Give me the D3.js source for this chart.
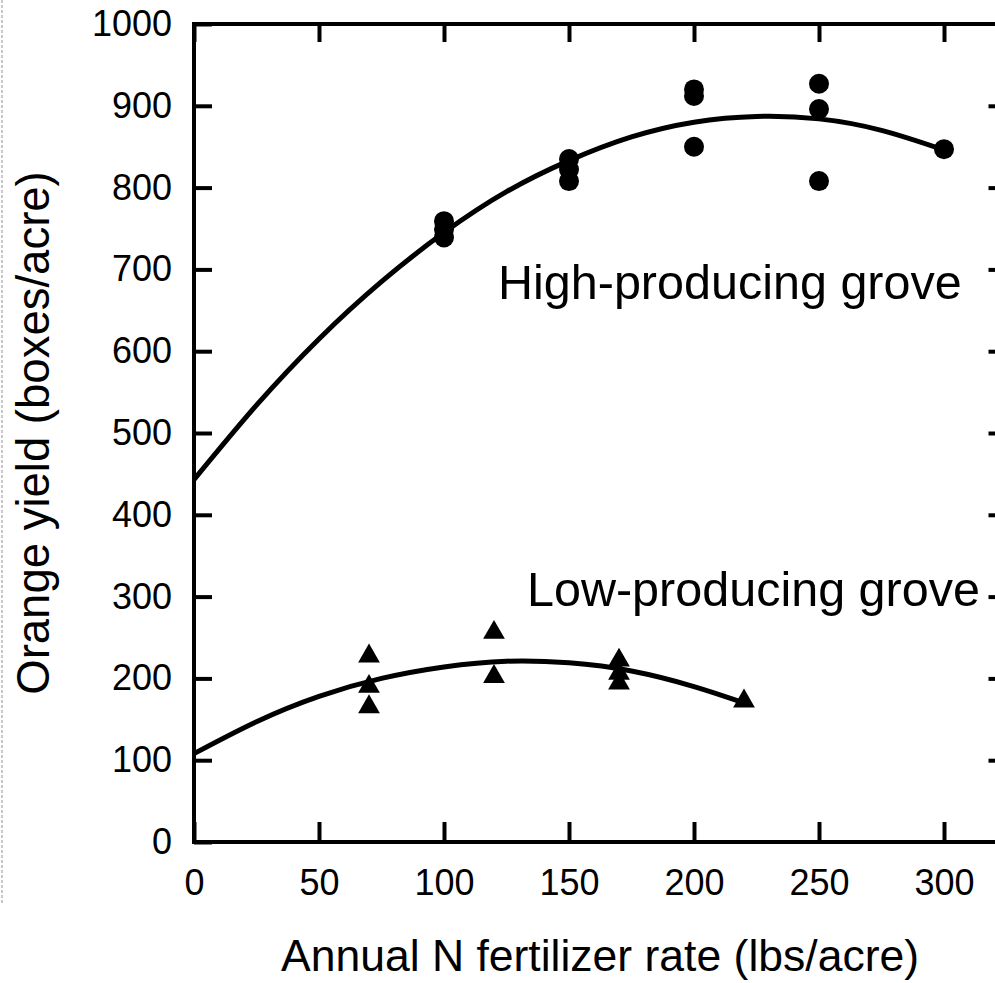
<!DOCTYPE html>
<html>
<head>
<meta charset="utf-8">
<script src="https://cdn.jsdelivr.net/npm/d3@7"></script>
<style>
    body { margin: 0; background: #fff; }
    text { font-family: "Liberation Sans", Arial, sans-serif; fill: #000; }
</style>
</head>
<body>
<div id="chart"></div>
<script>
'use strict';

// Observed yields, high-producing grove (circles)
const highX = [100, 100, 100, 150, 150, 150, 200, 200, 200, 250, 250, 250, 300];
const highY = [759, 749, 739, 835, 822, 808, 920, 912, 850, 927, 896, 808, 847];

// Observed yields, low-producing grove (triangles)
const lowX = [70, 70, 70, 120, 120, 170, 170, 170, 220];
const lowY = [231, 194, 169, 260, 206, 226, 210, 198, 176];

// Fitted response curves
const highFitX = [0, 25, 50, 75, 100, 125, 150, 175, 200, 225, 250, 275, 300];
const highFitY = [443, 534, 615, 685, 745, 795, 833, 862, 880, 887, 884, 870, 846];
const lowFitX = [0, 25, 50, 75, 100, 125, 150, 175, 200, 220];
const lowFitY = [108, 147, 178, 200, 214, 221, 219, 209, 190, 170];

const xTicks = [0, 50, 100, 150, 200, 250, 300];
const yTicks = [0, 100, 200, 300, 400, 500, 600, 700, 800, 900, 1000];

const width = 995, height = 983;
const plotLeft = 194, plotTop = 24, plotBottom = 842;
const plotRight = plotLeft + 325 * 2.5;

const svg = d3.select("#chart")
    .append("svg")
    .attr("width", width)
    .attr("height", height);

// dotted page edge on the far left
svg.append("line")
    .attr("x1", 2).attr("x2", 2)
    .attr("y1", 0).attr("y2", 905)
    .attr("stroke", "#c8c8c8")
    .attr("stroke-width", 2)
    .attr("stroke-dasharray", "3,2");

const x = d3.scaleLinear().domain([0, 325]).range([plotLeft, plotRight]);
const y = d3.scaleLinear().domain([0, 1000]).range([plotBottom, plotTop]);

// axes: ticks point inward on all four sides
const axisStyle = (g) => {
    g.select(".domain").remove();
    g.selectAll(".tick line").attr("stroke", "#000").attr("stroke-width", 4);
    g.selectAll(".tick text").style("font-size", "36px").attr("fill", "#000");
};

svg.append("g")
    .attr("transform", "translate(" + plotLeft + ",0)")
    .call(d3.axisLeft(y).tickValues(yTicks).tickFormat(d3.format("d")).tickSize(-18).tickPadding(22))
    .call(axisStyle);

svg.append("g")
    .attr("transform", "translate(0," + plotBottom + ")")
    .call(d3.axisBottom(x).tickValues(xTicks).tickFormat(d3.format("d")).tickSize(-20).tickPadding(27))
    .call(axisStyle);

svg.append("g")
    .attr("transform", "translate(0," + plotTop + ")")
    .call(d3.axisTop(x).tickValues(xTicks).tickSize(-18).tickFormat(""))
    .call(axisStyle);

svg.append("g")
    .attr("transform", "translate(" + plotRight + ",0)")
    .call(d3.axisRight(y).tickValues(yTicks.slice(1, -1)).tickSize(-18).tickFormat(""))
    .call(axisStyle);

svg.append("rect")
    .attr("x", plotLeft)
    .attr("y", plotTop)
    .attr("width", plotRight - plotLeft)
    .attr("height", plotBottom - plotTop)
    .attr("fill", "none")
    .attr("stroke", "#000")
    .attr("stroke-width", 4);

// fitted curves
const line = d3.line()
    .x(d => x(d[0]))
    .y(d => y(d[1]))
    .curve(d3.curveNatural);

svg.append("path")
    .datum(d3.zip(highFitX, highFitY))
    .attr("d", line)
    .attr("fill", "none")
    .attr("stroke", "#000")
    .attr("stroke-width", 5);

svg.append("path")
    .datum(d3.zip(lowFitX, lowFitY))
    .attr("d", line)
    .attr("fill", "none")
    .attr("stroke", "#000")
    .attr("stroke-width", 5);

// points
svg.selectAll("circle.high")
    .data(d3.zip(highX, highY))
    .enter()
    .append("circle")
    .attr("class", "high")
    .attr("cx", d => x(d[0]))
    .attr("cy", d => y(d[1]))
    .attr("r", 10)
    .attr("fill", "#000");

const triSize = 205;
const triShift = Math.sqrt(triSize / (3 * Math.sqrt(3))) / 2;
svg.selectAll("path.low")
    .data(d3.zip(lowX, lowY))
    .enter()
    .append("path")
    .attr("class", "low")
    .attr("d", d3.symbol(d3.symbolTriangle, triSize))
    .attr("transform", d => "translate(" + x(d[0]) + "," + (y(d[1]) + triShift) + ")")
    .attr("fill", "#000");

// annotations
svg.append("text")
    .attr("x", 498)
    .attr("y", 299)
    .style("font-size", "48.5px")
    .text("High-producing grove");

svg.append("text")
    .attr("x", 527)
    .attr("y", 606)
    .style("font-size", "48.5px")
    .text("Low-producing grove");

// axis titles
svg.append("text")
    .attr("transform", "translate(49," + 433 + ") rotate(-90)")
    .style("text-anchor", "middle")
    .style("font-size", "45.5px")
    .text("Orange yield (boxes/acre)");

svg.append("text")
    .attr("x", 600)
    .attr("y", 971)
    .style("text-anchor", "middle")
    .style("font-size", "44.5px")
    .text("Annual N fertilizer rate (lbs/acre)");
</script>
</body>
</html>
